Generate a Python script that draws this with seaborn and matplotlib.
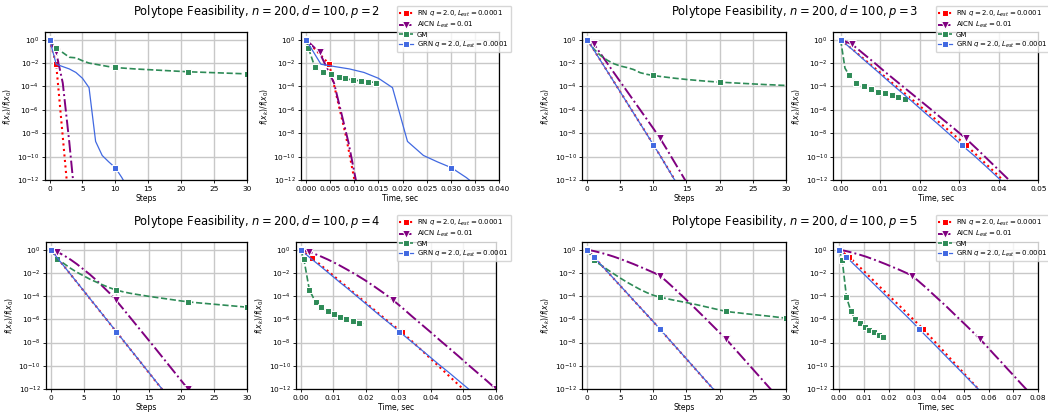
import numpy as np
import seaborn as sns
import matplotlib.pyplot as plt
from matplotlib.ticker import NullLocator

# values are log10 of f(x_k)/f(x_0)

# ---------- p = 2 ----------
rn2_y = [0, -2.09, -8.3, -14.5]
rn2_t = [0, 0.0048, 0.0083, 0.0112]
aicn2_y = [0, -1.09, -3.7, -8.8, -14.5]
aicn2_t = [0, 0.0028, 0.0058, 0.0088, 0.0115]
grn2_y = [0, -2.1, -2.3, -2.5, -2.8, -3.3, -4.1, -8.7, -9.9, -10.45, -10.95, -11.8, -12.8]
grn2_t = [0, 0.0031, 0.006, 0.009, 0.012, 0.015, 0.0179, 0.021, 0.0243, 0.0272, 0.0301, 0.0332, 0.0362]
gm2_y = [0, -0.72, -1.1, -1.5, -1.55, -1.8, -2.0, -2.1, -2.2, -2.3, -2.37,
         -2.42, -2.46, -2.5, -2.53, -2.56, -2.59, -2.62, -2.65, -2.68, -2.71,
         -2.74, -2.76, -2.78, -2.8, -2.82, -2.84, -2.86, -2.88, -2.9, -2.92]
gm2_t = [0, 0.0005, 0.00186, 0.0036, 0.0051, 0.0068, 0.0081, 0.0097, 0.0113, 0.0129, 0.0145]
gm2_ty = [0, -0.71, -2.37, -2.77, -2.97, -3.2, -3.31, -3.46, -3.51, -3.6, -3.66]

# ---------- p = 3 ----------
rn3_y = [0, -0.87, -1.77, -2.67, -3.57, -4.47, -5.37, -6.27, -7.17, -8.07, -8.98, -9.9, -10.83, -11.77, -12.7]
rn3_t = [0, 0.0032, 0.0063, 0.0095, 0.0126, 0.0158, 0.019, 0.0221, 0.0253, 0.0284, 0.0316, 0.0345, 0.0374, 0.0403, 0.0432]
aicn3_y = [0, -0.37, -1.18, -1.99, -2.8, -3.6, -4.4, -5.2, -6.0, -6.8, -7.6, -8.43, -9.35, -10.3, -11.25, -12.2]
aicn3_t = [0, 0.0028, 0.0057, 0.0086, 0.0114, 0.0143, 0.0172, 0.0201, 0.023, 0.0258, 0.0287, 0.0316, 0.0345, 0.0374, 0.0403, 0.0432]
grn3_y = [0, -0.88, -1.78, -2.68, -3.58, -4.48, -5.38, -6.28, -7.18, -8.08, -9.0, -9.9, -10.85, -11.8, -12.75]
grn3_t = [0, 0.0031, 0.0061, 0.0092, 0.0122, 0.0153, 0.0184, 0.0214, 0.0245, 0.0275, 0.0306, 0.0337, 0.0368, 0.0398, 0.0429]
gm3_y = [0, -0.8, -1.35, -1.75, -2.05, -2.25, -2.38, -2.55, -2.82, -2.96, -3.06,
         -3.14, -3.21, -3.28, -3.34, -3.4, -3.45, -3.5, -3.55, -3.59, -3.63,
         -3.66, -3.69, -3.72, -3.75, -3.78, -3.81, -3.84, -3.86, -3.89, -3.91]
gm3_t = [0, 0.0011, 0.0022, 0.004, 0.0059, 0.0076, 0.0094, 0.0112, 0.0129, 0.0146, 0.0164]
gm3_ty = [0, -2.43, -3.06, -3.66, -4.0, -4.23, -4.43, -4.6, -4.69, -4.91, -5.03]

# ---------- p = 4 ----------
rn4_y = [0, -0.72, -1.42, -2.12, -2.83, -3.53, -4.24, -4.94, -5.64, -6.35, -7.05, -7.76, -8.47, -9.17, -9.88, -10.59, -11.3, -12.0, -12.7]
rn4_t = [0, 0.0036, 0.0066, 0.0096, 0.0126, 0.0156, 0.0186, 0.0216, 0.0246, 0.0276, 0.031, 0.0337, 0.0364, 0.0391, 0.0418, 0.0445, 0.0472, 0.0499, 0.0526]
aicn4_y = [0, -0.2, -0.5, -0.85, -1.25, -1.7, -2.15, -2.65, -3.2, -3.75, -4.37, -5.05, -5.74, -6.43, -7.12, -7.81, -8.5, -9.2, -9.9, -10.6, -11.3, -12.0, -12.7]
aicn4_t = [0, 0.0027, 0.0056, 0.0084, 0.0113, 0.0142, 0.017, 0.0199, 0.0228, 0.0256, 0.0285, 0.0314, 0.0342, 0.0371, 0.04, 0.0428, 0.0457, 0.0486, 0.0514, 0.0543, 0.0572, 0.06, 0.0629]
grn4_y = [0, -0.72, -1.42, -2.12, -2.82, -3.52, -4.23, -4.93, -5.64, -6.34, -7.05, -7.75, -8.46, -9.16, -9.87, -10.57, -11.28, -11.98, -12.7]
grn4_t = [0, 0.003, 0.0061, 0.0091, 0.0121, 0.0152, 0.0182, 0.0212, 0.0242, 0.0273, 0.0303, 0.0333, 0.0364, 0.0394, 0.0424, 0.0455, 0.0485, 0.0515, 0.0545]
gm4_y = [0, -0.78, -1.2, -1.6, -1.95, -2.25, -2.55, -2.8, -3.05, -3.28, -3.48,
         -3.62, -3.74, -3.84, -3.93, -4.02, -4.1, -4.18, -4.26, -4.34, -4.42,
         -4.49, -4.55, -4.6, -4.65, -4.7, -4.75, -4.8, -4.85, -4.9, -4.95]
gm4_t = [0, 0.001, 0.0027, 0.0046, 0.0063, 0.0084, 0.0102, 0.0121, 0.0139, 0.016, 0.0179, 0.0192]
gm4_ty = [0, -0.78, -3.45, -4.52, -4.98, -5.3, -5.55, -5.76, -5.96, -6.13, -6.3, -6.39]

# ---------- p = 5 ----------
rn5_y = [0, -0.63, -1.25, -1.87, -2.5, -3.12, -3.74, -4.36, -4.98, -5.6, -6.22, -6.85, -7.5, -8.14, -8.78, -9.42, -10.06, -10.7, -11.34, -11.98, -12.62]
rn5_t = [0, 0.004, 0.007, 0.01, 0.013, 0.0159, 0.0189, 0.0219, 0.0249, 0.0278, 0.0308, 0.0338, 0.0366, 0.0393, 0.0421, 0.0448, 0.0476, 0.0503, 0.0531, 0.0558, 0.0586]
aicn5_y = [0, -0.12, -0.26, -0.42, -0.6, -0.8, -1.02, -1.24, -1.48, -1.72, -1.97, -2.24, -2.74, -3.26, -3.8,
           -4.33, -4.88, -5.44, -6.0, -6.57, -7.14, -7.71, -8.35, -8.99, -9.63, -10.27, -10.91, -11.55, -12.19]
aicn5_t = [0, 0.0027, 0.0053, 0.008, 0.0107, 0.0133, 0.016, 0.0186, 0.0213, 0.024, 0.0266, 0.0293, 0.032, 0.0348, 0.0375,
           0.0402, 0.043, 0.0457, 0.0484, 0.0512, 0.0539, 0.0566, 0.0594, 0.0621, 0.0649, 0.0676, 0.0704, 0.0731, 0.0759]
grn5_y = [0, -0.63, -1.25, -1.87, -2.49, -3.11, -3.73, -4.35, -4.97, -5.59, -6.21, -6.85, -7.49, -8.13, -8.77, -9.41, -10.05, -10.69, -11.33, -11.97, -12.61]
grn5_t = [0, 0.0029, 0.0058, 0.0088, 0.0117, 0.0146, 0.0176, 0.0205, 0.0234, 0.0264, 0.0293, 0.0322, 0.0351, 0.0381, 0.041, 0.0439, 0.0469, 0.0498, 0.0527, 0.0557, 0.0586]
gm5_y = [0, -0.92, -1.3, -1.7, -2.08, -2.45, -2.8, -3.12, -3.43, -3.7, -3.93,
         -4.09, -4.22, -4.34, -4.45, -4.56, -4.67, -4.8, -4.93, -5.06, -5.19,
         -5.32, -5.39, -5.45, -5.52, -5.58, -5.64, -5.7, -5.76, -5.83, -5.9]
gm5_t = [0, 0.0012, 0.0029, 0.0047, 0.0064, 0.0083, 0.0102, 0.0121, 0.0139, 0.0158, 0.0177, 0.0188]
gm5_ty = [0, -0.92, -4.09, -5.32, -5.96, -6.33, -6.68, -6.91, -7.11, -7.34, -7.48, -7.54]

labels = ["RN $q = 2.0, L_{est} = 0.0001$", "AICN $L_{est} = 0.01$", "GM",
          "GRN $q = 2.0, L_{est} = 0.0001$"]

W, H = 1048, 417
fig = plt.figure(figsize=(W / 100, H / 100), dpi=100)


def add_ax(l, t, w, h):
    return fig.add_axes([l / W, 1 - (t + h) / H, w / W, h / H])


styles = [dict(color="red", linestyle=":", marker="s", linewidth=1.5, markersize=5),
          dict(color="purple", linestyle="-.", marker="v", linewidth=1.4, markersize=5.5),
          dict(color="seagreen", linestyle="--", marker="s", linewidth=1.2, markersize=5),
          dict(color="royalblue", linestyle="-", marker="s", linewidth=0.9, markersize=5)]


def line(ax, x, logy, style, every, label=None):
    sns.lineplot(x=np.asarray(x), y=10.0 ** np.asarray(logy), ax=ax, sort=False,
                 estimator=None, errorbar=None, markevery=every, label=label, **style)


def finish(ax, xlim, xticks, xlabel, fmt=None):
    ax.set_yscale("log")
    ax.set_ylim(1e-12, 10 ** 0.66)
    ax.set_yticks([10.0 ** k for k in range(0, -13, -2)])
    ax.yaxis.set_minor_locator(NullLocator())
    ax.set_xlim(*xlim)
    ax.set_xticks(xticks)
    if fmt:
        ax.set_xticklabels([fmt.format(v) for v in xticks])
    ax.grid(True, color="#c8c8c8", linewidth=1.0)
    ax.set_axisbelow(True)
    ax.tick_params(labelsize=5.3, length=2.5, width=0.6, pad=1.5)
    ax.set_xlabel(xlabel, fontsize=5.5, labelpad=1.5)
    ax.set_ylabel("$f(x_k)/f(x_0)$", fontsize=5.5, labelpad=2)
    for s in ax.spines.values():
        s.set_linewidth(0.9)


panels = [
    dict(p=2, a=(44.7, 32, 202, 148), b=(301, 32, 198.3, 148),
         data=[(rn2_y, rn2_t), (aicn2_y, aicn2_t), (gm2_y, None), (grn2_y, grn2_t)],
         gm_time=(gm2_t, gm2_ty), gm_time_marks=list(range(11)),
         marks=[[0, 1], [0, 1], [0, 1, 10, 21, 30], [0, 10]],
         tlim=(-0.00103, 0.04), tticks=[0, 0.005, 0.01, 0.015, 0.02, 0.025, 0.03, 0.035, 0.04], tfmt="{:.3f}",
         title=(257, 12), leg=(511, 6)),
    dict(p=3, a=(582.3, 32, 203.4, 148), b=(833.3, 32, 205, 148),
         data=[(rn3_y, rn3_t), (aicn3_y, aicn3_t), (gm3_y, None), (grn3_y, grn3_t)],
         gm_time=(gm3_t, gm3_ty), gm_time_marks=[0] + list(range(2, 11)),
         marks=[[0, 10], [0, 1, 11], [0, 10, 20], [0, 10]],
         tlim=(-0.00185, 0.05), tticks=[0, 0.01, 0.02, 0.03, 0.04, 0.05], tfmt="{:.2f}",
         title=(795, 12), leg=(1050, 6)),
    dict(p=4, a=(46, 242, 200.7, 147), b=(296.3, 242, 199.7, 147),
         data=[(rn4_y, rn4_t), (aicn4_y, aicn4_t), (gm4_y, None), (grn4_y, grn4_t)],
         gm_time=(gm4_t, gm4_ty), gm_time_marks=list(range(11)),
         marks=[[0, 1, 10], [0, 1, 10, 21], [0, 1, 10, 21, 30], [0, 10]],
         tlim=(-0.0013, 0.06), tticks=[0, 0.01, 0.02, 0.03, 0.04, 0.05, 0.06], tfmt="{:.2f}",
         title=(257, 221), leg=(511, 215)),
    dict(p=5, a=(582.3, 242, 203.4, 147), b=(833.3, 242, 205, 147),
         data=[(rn5_y, rn5_t), (aicn5_y, aicn5_t), (gm5_y, None), (grn5_y, grn5_t)],
         gm_time=(gm5_t, gm5_ty), gm_time_marks=list(range(11)),
         marks=[[0, 1, 11], [0, 11, 21], [0, 1, 11, 21, 30], [0, 1, 11]],
         tlim=(-0.0024, 0.08), tticks=[0, 0.01, 0.02, 0.03, 0.04, 0.05, 0.06, 0.07, 0.08], tfmt="{:.2f}",
         title=(795, 221), leg=(1050, 215)),
]

for pn in panels:
    ax_s = add_ax(*pn["a"])
    ax_t = add_ax(*pn["b"])
    for i, (ys, ts) in enumerate(pn["data"]):
        line(ax_s, np.arange(len(ys)), ys, styles[i], pn["marks"][i])
        if ts is None:
            line(ax_t, pn["gm_time"][0], pn["gm_time"][1], styles[i], pn["gm_time_marks"], labels[i])
        else:
            line(ax_t, ts, ys, styles[i], pn["marks"][i], labels[i])
    if ax_s.get_legend():
        ax_s.get_legend().remove()
    finish(ax_s, (-0.75, 30), [0, 5, 10, 15, 20, 25, 30], "Steps")
    finish(ax_t, pn["tlim"], pn["tticks"], "Time, sec", pn["tfmt"])
    ax_t.legend(loc="upper right", bbox_to_anchor=(pn["leg"][0] / W, 1 - pn["leg"][1] / H),
                bbox_transform=fig.transFigure, borderaxespad=0, fontsize=5,
                handlelength=2.0, handletextpad=0.6, labelspacing=0.22, borderpad=0.35)
    fig.text(pn["title"][0] / W, 1 - pn["title"][1] / H,
             "Polytope Feasibility, $n = 200, d = 100, p = %d$" % pn["p"],
             ha="center", va="center", fontsize=8.3)

fig.savefig("out.png", dpi=100)
